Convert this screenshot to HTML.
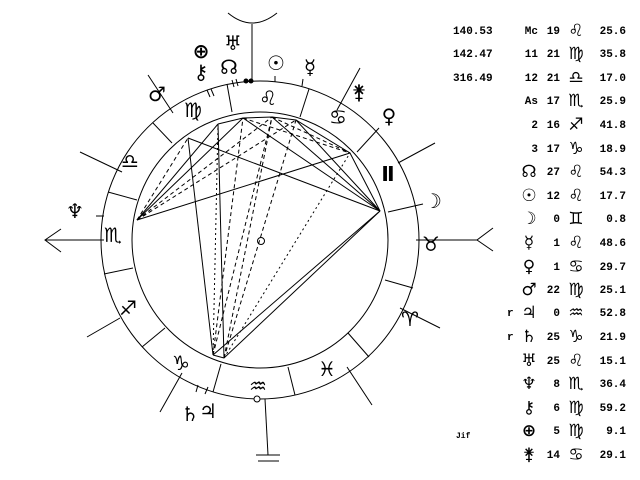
<!DOCTYPE html>
<html><head><meta charset="utf-8"><style>
html,body{margin:0;padding:0;background:#fff;}
svg{display:block}
.t{font-family:"Liberation Mono","DejaVu Sans Mono",monospace;font-weight:bold;font-size:11px;fill:#000}
.g{font-family:"DejaVu Sans",sans-serif;fill:#000}
</style></head><body>
<svg width="640" height="480" viewBox="0 0 640 480" xmlns="http://www.w3.org/2000/svg">
<rect width="640" height="480" fill="#fff"/>
<g stroke="#000" stroke-width="1" fill="none">
<circle cx="260" cy="240" r="159"/>
<circle cx="260" cy="240" r="128"/>
<circle cx="261" cy="241" r="3.5"/>
<line x1="232" y1="112" x2="227" y2="84"/>
<line x1="300" y1="117" x2="309" y2="89"/>
<line x1="357" y1="152" x2="379" y2="128"/>
<line x1="388" y1="212" x2="423" y2="204"/>
<line x1="385" y1="280" x2="413" y2="288"/>
<line x1="348" y1="333" x2="369" y2="357"/>
<line x1="288" y1="367" x2="295" y2="395"/>
<line x1="221" y1="364" x2="213" y2="392"/>
<line x1="165" y1="328" x2="142" y2="347"/>
<line x1="133" y1="268" x2="104" y2="274"/>
<line x1="137" y1="200" x2="108" y2="192"/>
<line x1="172" y1="143" x2="153" y2="123"/>
<line x1="148" y1="75" x2="173" y2="113"/>
<line x1="360" y1="68" x2="337" y2="110"/>
<line x1="398" y1="163" x2="435" y2="143"/>
<line x1="80" y1="152" x2="122" y2="172"/>
<line x1="87" y1="337" x2="120" y2="318"/>
<line x1="400" y1="308" x2="440" y2="328"/>
<line x1="347" y1="367" x2="372" y2="405"/>
<line x1="182" y1="373" x2="160" y2="412"/>
<line x1="96" y1="216" x2="104" y2="216"/>
<line x1="208" y1="387" x2="205" y2="394"/>
<line x1="198" y1="385" x2="196" y2="392"/>
<line x1="234" y1="87" x2="232" y2="80"/>
<line x1="238" y1="86" x2="236" y2="79"/>
<line x1="275" y1="82" x2="275" y2="76"/>
<line x1="302" y1="86" x2="303" y2="79"/>
<line x1="207" y1="90" x2="210" y2="97"/>
<line x1="211" y1="89" x2="214" y2="96"/>
<line x1="252" y1="82" x2="252" y2="24"/>
<path d="M228,13 Q252,33 277,13"/>
<line x1="45" y1="240" x2="104" y2="240"/>
<polyline points="61,229 45,240 61,252"/>
<line x1="416" y1="240" x2="477" y2="240"/>
<polyline points="493,228 477,240 493,251"/>
<line x1="265" y1="399" x2="268" y2="455"/>
<line x1="256" y1="455" x2="280" y2="455"/>
<line x1="258" y1="461" x2="279" y2="461"/>
<circle cx="257" cy="399" r="3" fill="#fff"/>
<path d="M218,124 L243,118 L272,117 L296,120 L350,153 L380,211"/>
<line x1="243" y1="118" x2="380" y2="211"/>
<line x1="272" y1="117" x2="380" y2="211"/>
<line x1="296" y1="120" x2="380" y2="211"/>
<line x1="188" y1="138" x2="380" y2="211"/>
<line x1="137" y1="220" x2="350" y2="153"/>
<line x1="218" y1="124" x2="224" y2="358"/>
<line x1="188" y1="138" x2="213" y2="355"/>
<line x1="137" y1="220" x2="218" y2="124"/>
<line x1="137" y1="220" x2="243" y2="118"/>
<line x1="380" y1="211" x2="213" y2="355"/>
<line x1="380" y1="211" x2="224" y2="358"/>
<line x1="213" y1="355" x2="224" y2="358"/>
</g>
<g stroke="#000" stroke-width="1" fill="none" stroke-dasharray="4,3">
<line x1="137" y1="220" x2="188" y2="138"/>
<line x1="137" y1="220" x2="272" y2="117"/>
<line x1="137" y1="220" x2="296" y2="120"/>
<line x1="213" y1="355" x2="243" y2="118"/>
<line x1="213" y1="355" x2="272" y2="117"/>
<line x1="224" y1="358" x2="272" y2="117"/>
<line x1="224" y1="358" x2="296" y2="120"/>
<line x1="243" y1="118" x2="350" y2="153"/>
<line x1="272" y1="117" x2="350" y2="153"/>
</g>
<g stroke="#000" stroke-width="1" fill="none" stroke-dasharray="2,3">
<line x1="224" y1="358" x2="350" y2="153"/>
<line x1="213" y1="355" x2="218" y2="124"/>
</g>
<circle cx="246" cy="81" r="2.5" fill="#000"/>
<circle cx="251" cy="81" r="2.5" fill="#000"/>
<g class="g" font-size="20" text-anchor="middle" font-weight="bold">
<text x="268" y="105">♌</text>
<text x="338" y="124">♋</text>
<text x="388" y="181">Ⅱ</text>
<text x="431" y="251">♉</text>
<text x="410" y="326">♈</text>
<text x="327" y="376">♓</text>
<text x="258" y="393">♒</text>
<text x="181" y="370">♑</text>
<text x="128" y="315">♐</text>
<text x="113" y="242">♏</text>
<text x="130" y="168">♎</text>
<text x="193" y="117">♍</text>
</g>
<g class="g" font-size="20" text-anchor="middle" font-weight="bold">
<text x="157" y="101">♂</text>
<text x="201" y="58">⊕</text>
<text x="201" y="79">⚷</text>
<text x="229" y="74">☊</text>
<text x="233" y="50">♅</text>
<text x="276" y="70">☉</text>
<text x="310" y="74">☿</text>
<text x="359" y="99">⚵</text>
<text x="389" y="123">♀</text>
<text x="433" y="208">☽</text>
<text x="75" y="218">♆</text>
<text x="190" y="421">♄</text>
<text x="208" y="418">♃</text>
</g>
<g class="t">
<text x="453" y="34">140.53</text>
<text x="453" y="57">142.47</text>
<text x="453" y="81">316.49</text>
<text x="456" y="438" font-size="8">Jif</text>
<text x="507" y="316">r</text>
<text x="507" y="340">r</text>
</g>
<g class="t" text-anchor="end">
<text x="538" y="34">Mc</text><text x="538" y="57">11</text><text x="538" y="81">12</text><text x="538" y="104">As</text><text x="538" y="128">2</text><text x="538" y="152">3</text>
<text x="560" y="34">19</text><text x="560" y="57">21</text><text x="560" y="81">21</text><text x="560" y="104">17</text><text x="560" y="128">16</text><text x="560" y="152">17</text>
<text x="560" y="175">27</text><text x="560" y="199">12</text><text x="560" y="222">0</text><text x="560" y="246">1</text><text x="560" y="270">1</text><text x="560" y="293">22</text><text x="560" y="316">0</text><text x="560" y="340">25</text><text x="560" y="364">25</text><text x="560" y="387">8</text><text x="560" y="411">6</text><text x="560" y="434">5</text><text x="560" y="458">14</text>
<text x="626" y="34">25.6</text><text x="626" y="57">35.8</text><text x="626" y="81">17.0</text><text x="626" y="104">25.9</text><text x="626" y="128">41.8</text><text x="626" y="152">18.9</text><text x="626" y="175">54.3</text><text x="626" y="199">17.7</text><text x="626" y="222">0.8</text><text x="626" y="246">48.6</text><text x="626" y="270">29.7</text><text x="626" y="293">25.1</text><text x="626" y="316">52.8</text><text x="626" y="340">21.9</text><text x="626" y="364">15.1</text><text x="626" y="387">36.4</text><text x="626" y="411">59.2</text><text x="626" y="434">9.1</text><text x="626" y="458">29.1</text>
</g>
<g class="g" font-size="17" text-anchor="middle" font-weight="bold">
<text x="576" y="36">♌</text><text x="576" y="59">♍</text><text x="576" y="83">♎</text><text x="576" y="106">♏</text><text x="576" y="130">♐</text><text x="576" y="154">♑</text><text x="576" y="177">♌</text><text x="576" y="201">♌</text><text x="576" y="224">♊</text><text x="576" y="248">♌</text><text x="576" y="272">♋</text><text x="576" y="295">♍</text><text x="576" y="318">♒</text><text x="576" y="342">♑</text><text x="576" y="366">♌</text><text x="576" y="389">♏</text><text x="576" y="413">♍</text><text x="576" y="436">♍</text><text x="576" y="460">♋</text>
<text x="529" y="177">☊</text><text x="529" y="201">☉</text><text x="529" y="224">☽</text><text x="529" y="248">☿</text><text x="529" y="272">♀</text><text x="529" y="295">♂</text><text x="529" y="318">♃</text><text x="529" y="342">♄</text><text x="529" y="366">♅</text><text x="529" y="389">♆</text><text x="529" y="413">⚷</text><text x="529" y="436">⊕</text><text x="529" y="460">⚵</text>
</g>
</svg>
</body></html>
